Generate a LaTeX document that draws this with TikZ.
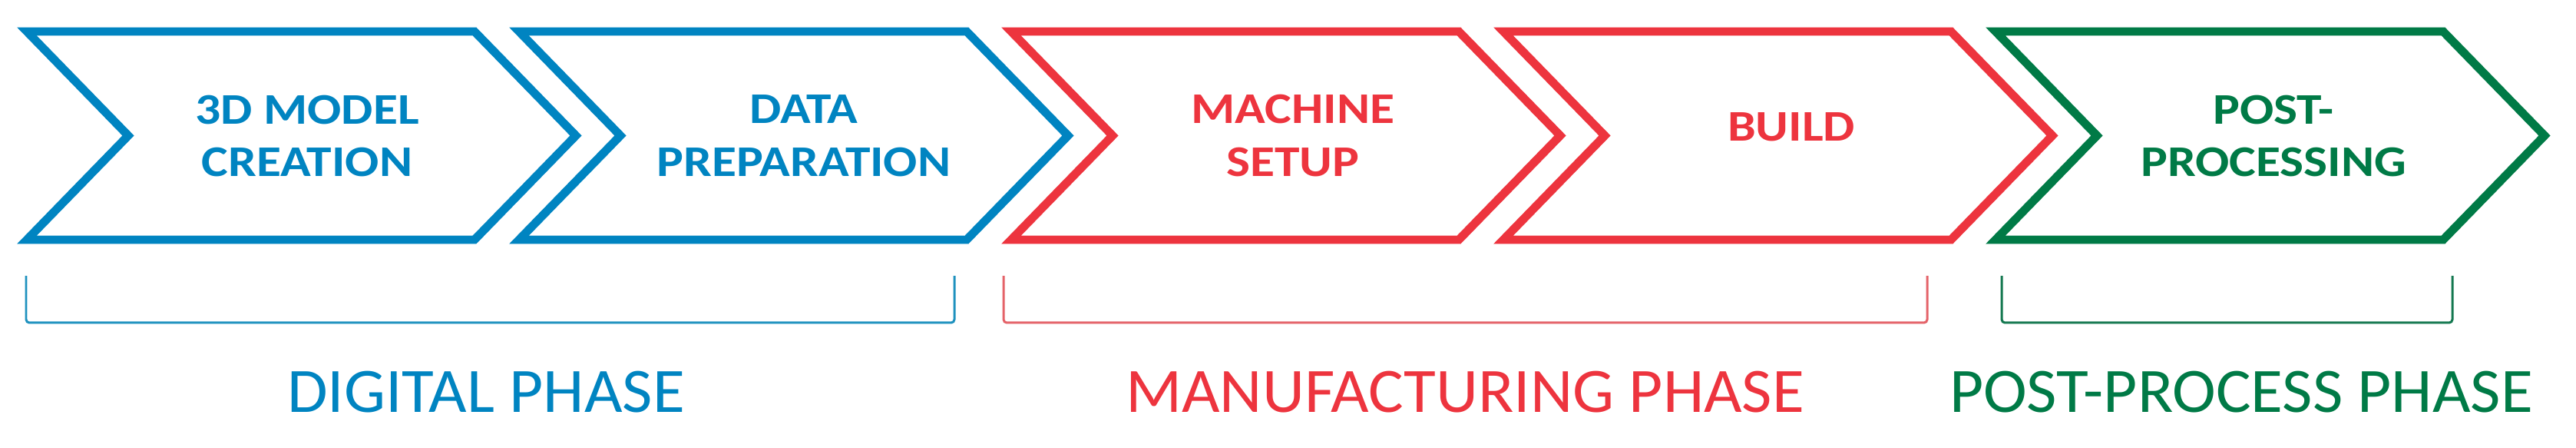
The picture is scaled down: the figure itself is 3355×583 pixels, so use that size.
\documentclass[tikz,border=0pt]{standalone}
\usepackage{fontspec}
\setmainfont{Carlito}
\newfontfamily\stagefont[FakeStretch=1.15]{Carlito}
\newfontfamily\phasefont[FakeStretch=1.04]{Carlito}
\usetikzlibrary{positioning}
\definecolor{digblue}{RGB}{0,132,193}
\definecolor{manred}{RGB}{237,52,62}
\definecolor{postgreen}{RGB}{0,122,70}
\definecolor{digbracket}{RGB}{30,145,190}
\definecolor{manbracket}{RGB}{228,98,104}
\definecolor{postbracket}{RGB}{20,120,80}
\newcommand{\chevron}[2]{%
  \draw[stageedge, #1, shift={(#2)}] (0,0) -- ++(583,0) -- ++(132,135.5) -- ++(-132,135.5)
    -- ++(-583,0) -- ++(132,-135.5) -- cycle;}

\begin{document}
\begin{tikzpicture}[x=0.01cm, y=-0.01cm,
  stageedge/.style={line width=3.1pt, line join=miter},
  stagetag/.style={align=center, inner sep=0pt, font=\stagefont\bfseries\fontsize{16.2}{19.6}\selectfont},
  bracket/.style={line width=0.85pt, rounded corners=1.2pt},
  phasetag/.style={anchor=base, inner sep=0pt, font=\phasefont\fontsize{23.4}{28}\selectfont}
  ]
  \useasboundingbox (0,0) rectangle (3355,583);

  % stages
  \coordinate (modelc) at (35,41);
  \coordinate (prepc) at (676,41);
  \coordinate (setupc) at (1317,41);
  \coordinate (buildc) at (1958,41);
  \coordinate (postc) at (2599,41);

  \chevron{digblue}{modelc}
  \chevron{digblue}{prepc}
  \chevron{manred}{setupc}
  \chevron{manred}{buildc}
  \chevron{postgreen}{postc}

  \node[stagetag, digblue] (model) at (400,177) {3D MODEL\\CREATION};
  \node[stagetag, digblue] (prep) at (1047,177) {DATA\\PREPARATION};
  \node[stagetag, manred] (setup) at (1684,177) {MACHINE\\SETUP};
  \node[stagetag, manred] (build) at (2333,165) {BUILD};
  \node[stagetag, postgreen] (post) at (2961,177) {POST-\\PROCESSING};

  % phases
  \coordinate (digl) at (34,359);
  \coordinate (digr) at (1243,359);
  \coordinate (manl) at (1307,359);
  \coordinate (manr) at (2510,359);
  \coordinate (postl) at (2607,359);
  \coordinate (postr) at (3194,359);

  \draw[bracket, digbracket] (digl) -- ++(0,61) -| (digr);
  \draw[bracket, manbracket] (manl) -- ++(0,61) -| (manr);
  \draw[bracket, postbracket] (postl) -- ++(0,61) -| (postr);

  \node[phasetag, digblue] (digital) at (633,537) {DIGITAL PHASE};
  \node[phasetag, manred] (manufacturing) at (1908,537) {MANUFACTURING PHASE};
  \node[phasetag, postgreen] (postprocess) at (2919,537) {POST-PROCESS PHASE};
\end{tikzpicture}
\end{document}
